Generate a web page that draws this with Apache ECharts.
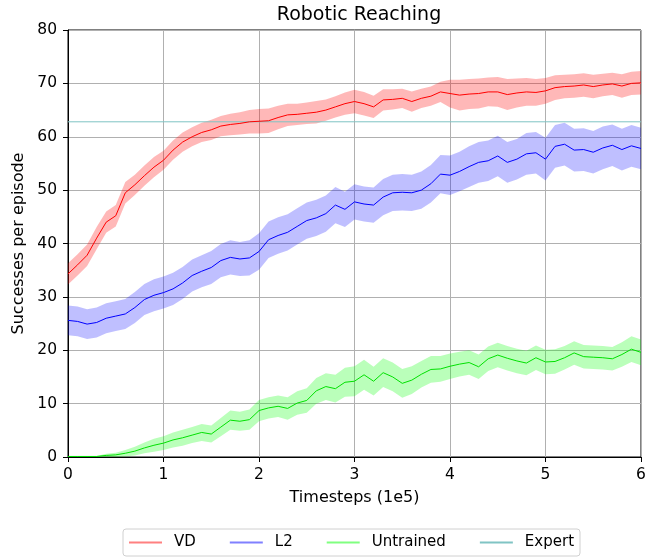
<!DOCTYPE html>
<html>
<head>
<meta charset="utf-8">
<script src="https://cdn.jsdelivr.net/npm/echarts@6/dist/echarts.min.js"></script>
<style>html,body{margin:0;padding:0;background:#fff}#c{width:665px;height:559px}</style>
</head>
<body>
<div id="c"></div>
<script>
const timesteps = [0.0,0.1,0.2,0.3,0.4,0.5,0.6,0.7,0.8,0.9,1.0,1.1,1.2,1.3,1.4,1.5,1.6,1.7,1.8,1.9,2.0,2.1,2.2,2.3,2.4,2.5,2.6,2.7,2.8,2.9,3.0,3.1,3.2,3.3,3.4,3.5,3.6,3.7,3.8,3.9,4.0,4.1,4.2,4.3,4.4,4.5,4.6,4.7,4.8,4.9,5.0,5.1,5.2,5.3,5.4,5.5,5.6,5.7,5.8,5.9,6.0];
const vdMean = [34.3,36,37.8,41,44,45.2,49.5,51,52.7,54.3,55.6,57.5,59,60,60.8,61.3,62,62.3,62.5,62.8,62.9,63,63.6,64.1,64.2,64.4,64.6,65,65.6,66.2,66.6,66.2,65.6,66.9,67,67.2,66.6,67.2,67.6,68.4,68.1,67.8,68,68.1,68.4,68.4,67.9,68.2,68.4,68.3,68.6,69.2,69.4,69.5,69.7,69.4,69.7,69.9,69.5,70,70.1];
const vdStd = [2.0,2.0,2.0,2.1,2.0,2.0,2.0,1.9,1.9,1.9,1.8,1.8,1.8,1.8,1.8,1.9,1.9,2.0,2.1,2.2,2.3,2.3,2.2,2.1,2.0,2.0,2.1,2.0,2.0,2.1,2.2,2.2,2.1,2.0,1.9,1.8,1.9,1.8,1.8,1.9,2.6,2.9,2.8,2.8,2.7,2.8,2.9,2.7,2.6,2.5,2.4,2.3,2.2,2.2,2.2,2.2,2.1,2.1,2.2,2.2,2.2];
const l2Mean = [25.6,25.4,24.9,25.2,26,26.4,26.8,28,29.5,30.3,30.8,31.5,32.6,34,34.8,35.5,36.8,37.4,37.1,37.3,38.5,40.7,41.5,42.1,43.2,44.3,44.8,45.6,47.2,46.4,47.8,47.4,47.2,48.7,49.5,49.6,49.5,50,51.2,53,52.8,53.5,54.4,55.2,55.5,56.4,55.2,55.8,56.8,57,55.8,58.2,58.6,57.5,57.6,57.1,57.9,58.4,57.6,58.3,57.8];
const l2Std = [2.8,2.8,2.8,2.8,2.8,2.8,2.8,2.9,2.9,3.0,3.0,3.0,3.0,3.0,3.0,3.1,3.1,3.2,3.2,3.3,3.4,3.4,3.4,3.4,3.4,3.4,3.4,3.4,3.4,3.3,3.3,3.3,3.3,3.4,3.4,3.4,3.4,3.5,3.5,3.6,3.7,3.7,3.8,3.8,3.8,3.8,3.8,3.8,3.9,3.9,4.0,4.0,4.0,4.0,4.0,4.0,4.0,3.9,3.9,3.9,3.9];
const untrainedMean = [0.1,0.1,0.1,0.1,0.3,0.4,0.7,1.1,1.7,2.2,2.6,3.2,3.6,4.1,4.6,4.3,5.6,6.9,6.7,7,8.7,9.2,9.5,9.1,10.1,10.6,12.4,13.2,12.8,14,14.2,15.4,14.2,15.8,15,13.8,14.4,15.5,16.4,16.5,17,17.4,17.7,16.9,18.4,19.1,18.5,18,17.6,18.6,17.8,17.9,18.6,19.5,18.8,18.7,18.6,18.4,19.2,20.2,19.6];
const untrainedStd = [0.1,0.1,0.1,0.1,0.3,0.4,0.6,0.8,1.0,1.2,1.3,1.4,1.5,1.5,1.6,1.6,1.7,1.8,1.8,1.9,2.0,2.0,2.0,2.1,2.2,2.3,2.4,2.5,2.6,2.7,2.8,2.8,2.7,2.7,2.7,2.7,2.6,2.5,2.5,2.4,2.4,2.3,2.3,2.3,2.3,2.3,2.3,2.3,2.3,2.3,2.3,2.3,2.2,2.2,2.2,2.2,2.2,2.2,2.3,2.4,2.4];
const expertLevel = 62.8;
const xTicks = [0,1,2,3,4,5,6];
const yTicks = [0,10,20,30,40,50,60,70,80];

const FONT = 'DejaVu Sans';
function pairs(m){ return timesteps.map((x,i)=>[x,m[i]]); }
function band(name, mean, std, fill){
  return {
    type:'custom', name:name, silent:true, z:1,
    data: pairs(mean), encode:{x:0,y:1},
    renderItem:function(params, api){
      if (params.dataIndex !== 0) return;
      const pts = [];
      for (let i=0;i<timesteps.length;i++) pts.push(api.coord([timesteps[i], mean[i]+std[i]]));
      for (let i=timesteps.length-1;i>=0;i--) pts.push(api.coord([timesteps[i], Math.max(0, mean[i]-std[i])]));
      return {type:'polygon', shape:{points:pts}, style:{fill:fill}};
    }
  };
}
function line(name, mean, color){
  return {type:'line', name:name, data:pairs(mean), showSymbol:false, symbol:'none', z:3,
    lineStyle:{color:color, width:1}, itemStyle:{color:color}};
}
const chart = echarts.init(document.getElementById('c'), null, {renderer:'canvas'});
chart.setOption({
  animation:false,
  backgroundColor:'#fff',
  title:{text:'Robotic Reaching', left:354, top:1, textAlign:'center',
    textStyle:{fontFamily:FONT, fontSize:19, fontWeight:'normal', color:'#000'}},
  grid:{left:68, right:24, top:30, bottom:102, show:true, borderColor:'#000', borderWidth:1, backgroundColor:'transparent'},
  legend:{
    left:123, top:529, padding:[6,6,6,6], itemGap:34, itemWidth:33, itemHeight:2,
    borderColor:'#d0d0d0', borderWidth:1, borderRadius:3,
    textStyle:{fontFamily:FONT, fontSize:15, color:'#000', padding:[0,0,0,7]},
    data:[
      {name:'VD', icon:'rect', itemStyle:{color:'#ff8080'}},
      {name:'L2', icon:'rect', itemStyle:{color:'#8080ff'}},
      {name:'Untrained', icon:'rect', itemStyle:{color:'#80ff80'}},
      {name:'Expert', icon:'rect', itemStyle:{color:'#80c4c4'}}
    ]
  },
  xAxis:{type:'value', min:xTicks[0], max:xTicks[xTicks.length-1], interval:1,
    name:'Timesteps (1e5)', nameLocation:'middle', nameGap:33,
    nameTextStyle:{fontFamily:FONT, fontSize:16, color:'#000'},
    axisLine:{show:true, lineStyle:{color:'#000', width:1}},
    axisTick:{show:true, length:5, lineStyle:{color:'#000'}},
    axisLabel:{fontFamily:FONT, fontSize:15.5, color:'#000', margin:10},
    splitLine:{show:true, lineStyle:{color:'#b0b0b0', width:1}}},
  yAxis:{type:'value', min:yTicks[0], max:yTicks[yTicks.length-1], interval:10,
    name:'Successes per episode', nameLocation:'middle', nameGap:39,
    nameTextStyle:{fontFamily:FONT, fontSize:16, color:'#000'},
    axisLine:{show:true, lineStyle:{color:'#000', width:1}},
    axisTick:{show:true, length:5, lineStyle:{color:'#000'}},
    axisLabel:{fontFamily:FONT, fontSize:15.5, color:'#000', margin:11},
    splitLine:{show:true, lineStyle:{color:'#b0b0b0', width:1}}},
  series:[
    band('VD band', vdMean, vdStd, 'rgba(255,0,0,0.28)'),
    band('L2 band', l2Mean, l2Std, 'rgba(0,0,255,0.25)'),
    band('Untrained band', untrainedMean, untrainedStd, 'rgba(0,255,0,0.27)'),
    line('VD', vdMean, '#ff0000'),
    line('L2', l2Mean, '#0000ff'),
    line('Untrained', untrainedMean, '#00e000'),
    {type:'line', name:'Expert', data:[[xTicks[0],expertLevel],[xTicks[xTicks.length-1],expertLevel]],
      showSymbol:false, symbol:'none', z:2, lineStyle:{color:'#80c4c4', width:1}, itemStyle:{color:'#80c4c4'}}
  ]
});
</script>
</body>
</html>
